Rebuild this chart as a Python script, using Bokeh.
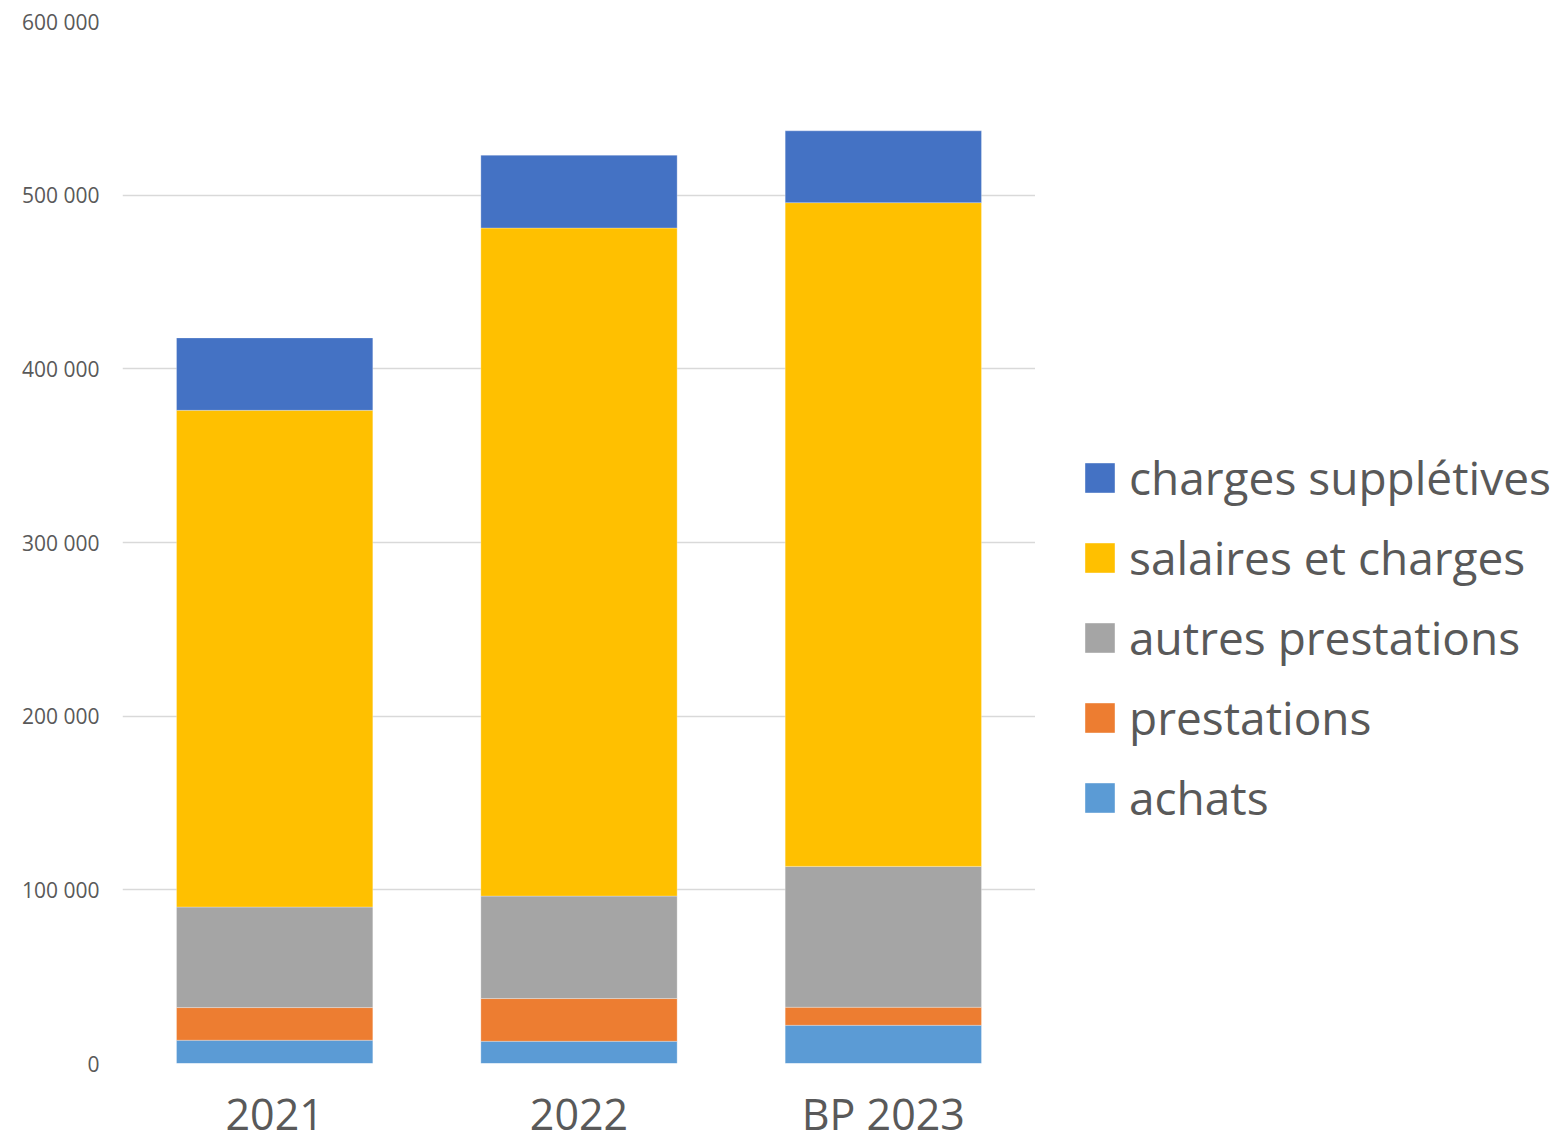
from bokeh.plotting import figure
from bokeh.layouts import row
from bokeh.models import FactorRange, Range1d, Legend, LegendItem, FixedTicker, CustomJSTickFormatter
from bokeh.embed import file_html
from bokeh.resources import INLINE

years = ["2021", "2022", "BP 2023"]
achats = [13400, 12800, 22000]
prestations = [18800, 24600, 10400]
autres_prestations = [57900, 59000, 81100]
salaires_et_charges = [286000, 384700, 382200]
charges_suppletives = [41700, 41900, 41350]

series = ["achats", "prestations", "autres_prestations", "salaires_et_charges", "charges_suppletives"]
labels = ["achats", "prestations", "autres prestations", "salaires et charges", "charges supplétives"]
colors = ["#5B9BD5", "#ED7D31", "#A5A5A5", "#FFC000", "#4472C4"]
y_ticks = [0, 100000, 200000, 300000, 400000, 500000, 600000]

data = dict(years=years, achats=achats, prestations=prestations,
            autres_prestations=autres_prestations,
            salaires_et_charges=salaires_et_charges,
            charges_suppletives=charges_suppletives)

p = figure(x_range=FactorRange(*years, range_padding=0), y_range=Range1d(0, 600000),
           width=1035, height=1145, output_backend="svg", toolbar_location=None,
           min_border_left=122, min_border_right=0, min_border_top=21, min_border_bottom=82)

p.vbar_stack(series, x="years", width=0.645, color=colors, source=data,
             line_color="white", line_alpha=0.35, line_width=0.8)

p.outline_line_color = None
p.xgrid.grid_line_color = None
p.ygrid.grid_line_color = "#D9D9D9"
p.ygrid.grid_line_width = 1.5
p.yaxis.ticker = FixedTicker(ticks=y_ticks)
p.yaxis.formatter = CustomJSTickFormatter(code="""
    if (tick == 0) return '0';
    const s = Math.round(tick).toString();
    return s.replace(/\\B(?=(\\d{3})+(?!\\d))/g, ' ');
""")
for ax in (p.xaxis[0], p.yaxis[0]):
    ax.axis_line_color = None
    ax.major_tick_line_color = None
    ax.minor_tick_line_color = None
    ax.major_tick_out = 0
    ax.major_tick_in = 0
    ax.major_label_text_color = "#595959"
    ax.major_label_text_font = "Open Sans"
p.yaxis.major_label_text_font_size = "21px"
p.yaxis.major_label_standoff = 23
p.xaxis.major_label_text_font_size = "43px"
p.xaxis.major_label_standoff = 20

# legend panel: same data, its bars hidden, only the legend is shown
lg = figure(x_range=FactorRange(*years), y_range=Range1d(0, 600000),
            width=526, height=1145, output_backend="svg", toolbar_location=None,
            min_border=0, outline_line_color=None)
lg.axis.visible = False
lg.grid.visible = False
lrs = lg.vbar_stack(series, x="years", width=0.645, color=colors, source=data, line_color=None)
for r in lrs:
    r.visible = False
items = [LegendItem(label=labels[i], renderers=[lrs[i]]) for i in range(4, -1, -1)]
legend = Legend(items=items, location=(46, 235), orientation="vertical",
                padding=0, margin=0, border_line_color=None, background_fill_alpha=0,
                inactive_fill_alpha=0,
                glyph_width=37, glyph_height=37, label_standoff=11, spacing=18,
                label_text_font="Open Sans", label_text_font_size="46px",
                label_text_color="#595959")
lg.add_layout(legend, "center")

open("out.html", "w").write(file_html(row(p, lg), INLINE))
